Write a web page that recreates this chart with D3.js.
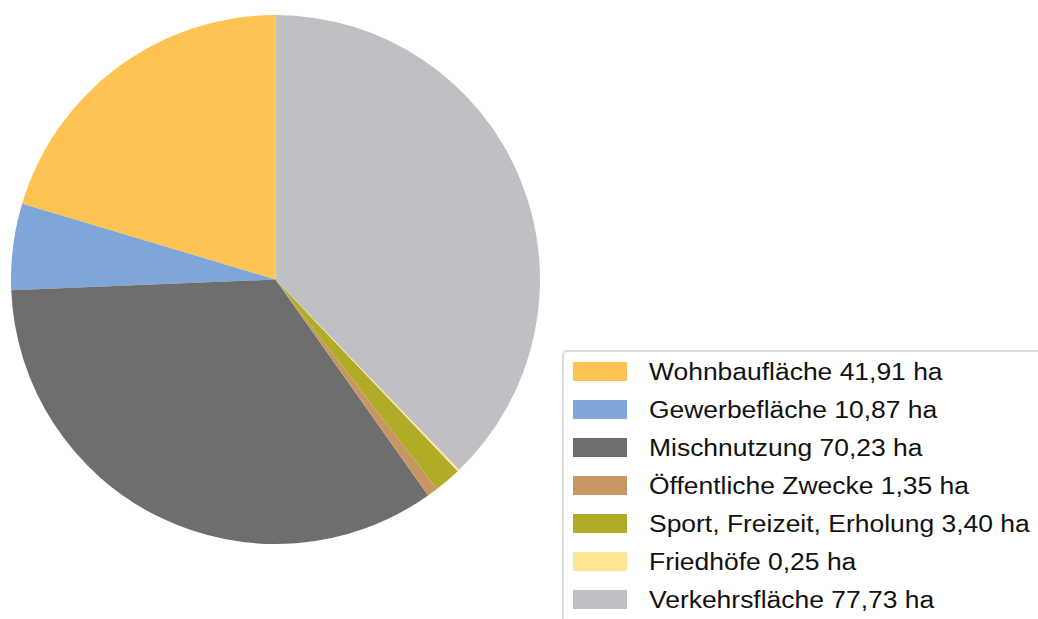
<!DOCTYPE html>
<html><head><meta charset="utf-8">
<script src="https://cdn.jsdelivr.net/npm/d3@7"></script>
<style>body{margin:0;background:#fff;}svg{display:block;}</style>
</head><body>
<svg id="c" width="1038" height="619"></svg>
<script>
const categories = ["Wohnbaufläche","Gewerbefläche","Mischnutzung","Öffentliche Zwecke","Sport, Freizeit, Erholung","Friedhöfe","Verkehrsfläche"];
const values = [41.91,10.87,70.23,1.35,3.40,0.25,77.73];
const valueLabels = ["41,91","10,87","70,23","1,35","3,40","0,25","77,73"];
const colors = ["#FFC353","#7EA6D9","#6E6E6E","#C89664","#B0AC27","#FFE694","#BFC0C4"];

const svg = d3.select("#c");
const cx = 275.5, cy = 279.5, r = 264.5;
const pie = d3.pie().sort(null).startAngle(0).endAngle(-2*Math.PI);
const arcs = pie(values);
const arc = d3.arc().innerRadius(0).outerRadius(r);
const color = d3.scaleOrdinal().domain(categories).range(colors);
svg.append("g").attr("transform",`translate(${cx},${cy})`)
  .selectAll("path").data(arcs).join("path")
  .attr("d",arc).attr("fill",(d,i)=>color(categories[i]));

// legend
const lg = svg.append("g");
lg.append("rect").attr("x",563).attr("y",351).attr("width",500).attr("height",300)
  .attr("rx",4).attr("fill","#fff").attr("stroke","#dcdcdc").attr("stroke-width",2);
const y = d3.scaleBand().domain(categories).range([361,627]);
const items = lg.selectAll("g.item").data(categories).join("g").attr("class","item")
  .attr("transform",d=>`translate(0,${y(d)})`);
items.append("rect").attr("x",573).attr("y",1).attr("width",54).attr("height",19)
  .attr("fill",d=>color(d));
items.append("text").attr("x",0).attr("y",0)
  .attr("transform","translate(649,19) scale(1.08,1)")
  .attr("font-family","Liberation Sans, Arial, sans-serif").attr("font-size",24.5)
  .attr("fill","#111")
  .text((d,i)=>`${d} ${valueLabels[i]} ha`);
</script>
</body></html>
